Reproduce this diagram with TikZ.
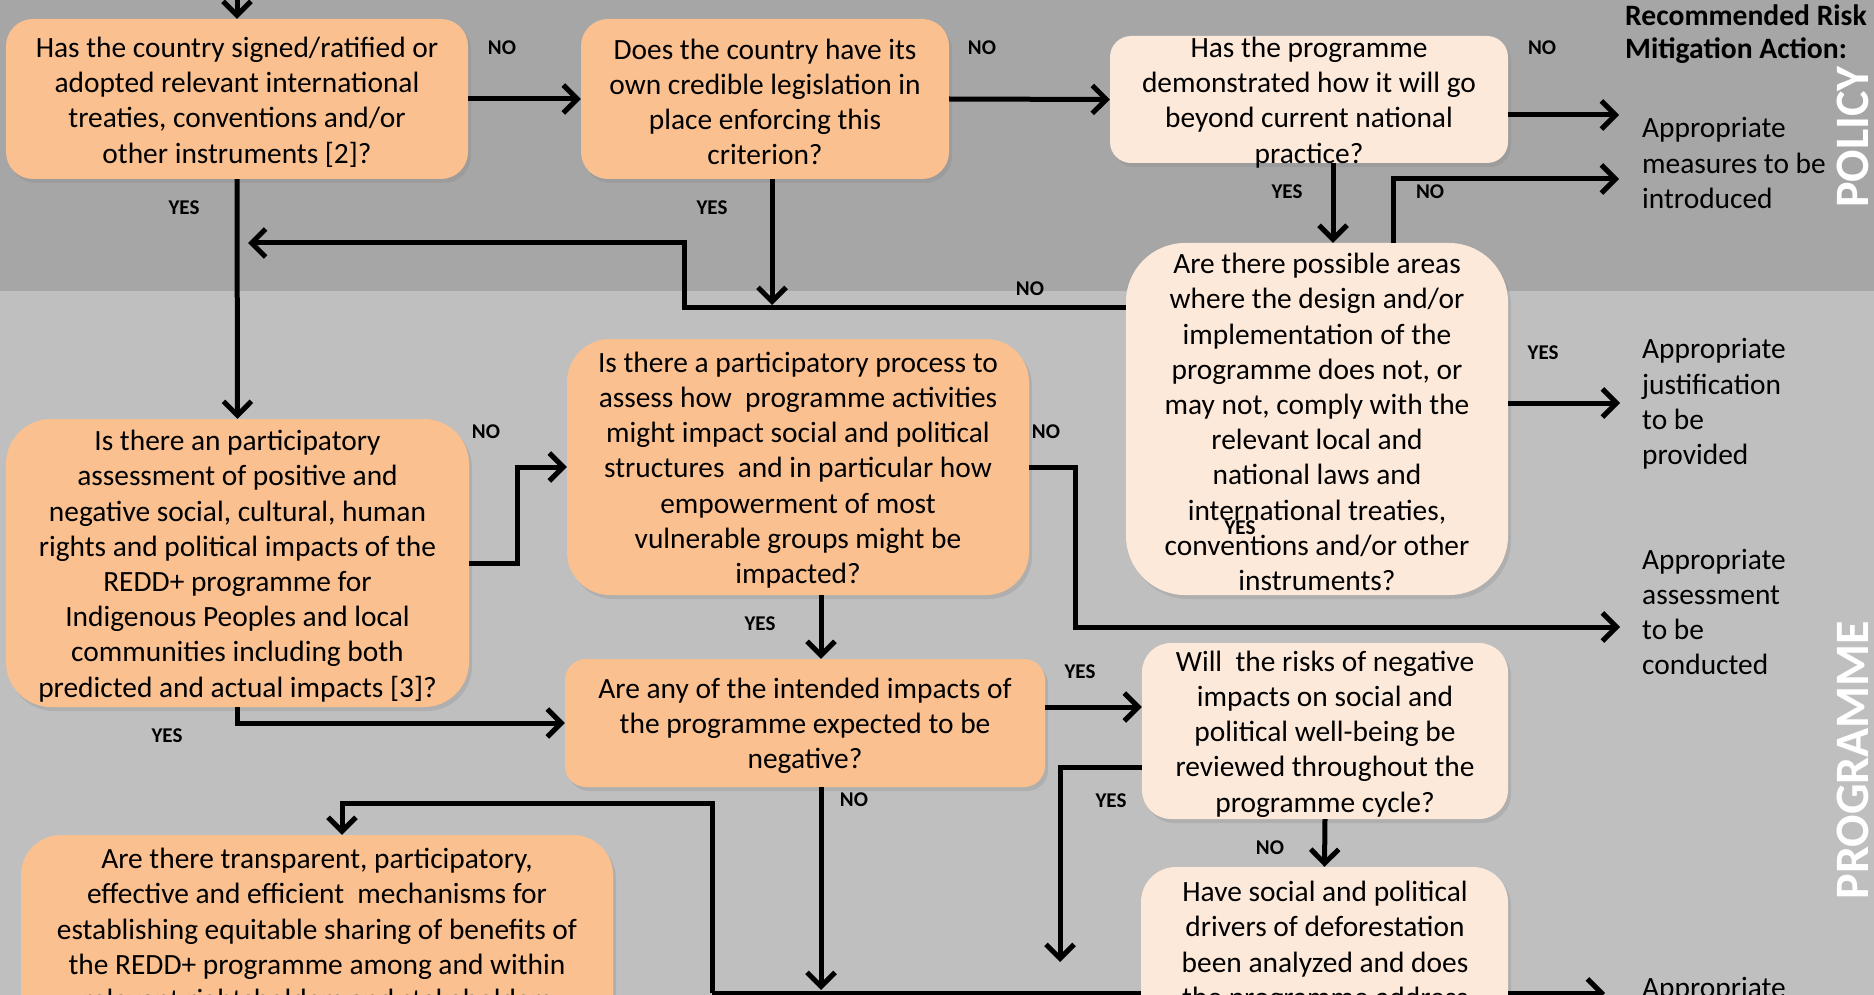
\documentclass[tikz,border=0pt]{standalone}
\usepackage{fontspec}
\setmainfont{Carlito}
\usetikzlibrary{arrows.meta,shadows}
\definecolor{bgtop}{HTML}{A6A6A6}
\definecolor{bgbot}{HTML}{BFBFBF}
\definecolor{orng}{HTML}{FAC090}
\definecolor{lite}{HTML}{FDE9D9}
\begin{document}
\begin{tikzpicture}[x=1pt,y=-1pt,
  box/.style={draw=none, inner sep=0pt, rectangle, drop shadow={shadow xshift=3pt, shadow yshift=-4pt, opacity=0.25}},
  obox/.style={box, fill=orng},
  lbox/.style={box, fill=lite},
  txt/.style={align=center, inner sep=0pt, yshift=-3pt, font=\fontsize{29.4}{35.2}\selectfont},
  yn/.style={font=\fontsize{21}{21}\selectfont\bfseries, inner sep=0pt},
  act/.style={align=left, anchor=west, inner sep=0pt, font=\fontsize{29.4}{35.2}\selectfont},
  hdr/.style={align=left, anchor=west, inner sep=0pt, font=\fontsize{29.6}{33}\selectfont\bfseries},
  arr/.style={line width=5pt, -{Straight Barb[length=14pt,width=28pt]}},
  ln/.style={line width=5pt},
  sec/.style={rotate=90, text=white, font=\fontsize{48}{48}\selectfont\bfseries, inner sep=0pt}
]
\useasboundingbox (0,0) rectangle (1874,995);
\clip (0,0) rectangle (1874,995);
\fill[bgtop] (0,0) rectangle (1874,291);
\fill[bgbot] (0,291) rectangle (1874,995);

% coordinates
\coordinate (top) at (237,0);
\coordinate (m1) at (1619,115);
\coordinate (m2) at (1619,179);
\coordinate (m3) at (1620,627);
\coordinate (m4) at (1605,993);
\coordinate (m5) at (1620,403);
\coordinate (x5) at (1333,0);
\coordinate (x6) at (1393,0);
\coordinate (x8) at (772,0);
\coordinate (x12) at (821,0);
\coordinate (x18) at (342,0);
\coordinate (k1) at (684,307);
\coordinate (k2) at (248,243);
\coordinate (k3) at (772,305);
\coordinate (k4) at (0,707);
\coordinate (k5) at (1060,767);
\coordinate (k6) at (1060,962);
\coordinate (k7) at (821,990);
\coordinate (k8) at (712,993);
\coordinate (k9) at (712,803);

% bottom line behind box I
\draw[ln] (k8) -- (1300,993);

% boxes
\node[obox, rounded corners=27pt, minimum width=462pt, minimum height=160pt] (A) at (237,99) {};
\node[obox, rounded corners=27pt, minimum width=368pt, minimum height=160pt] (B) at (765,99) {};
\node[lbox, rounded corners=21pt, minimum width=398pt, minimum height=127pt] (C) at (1309,99.5) {};
\node[lbox, rounded corners=59pt, minimum width=382pt, minimum height=352pt] (D) at (1317,419) {};
\node[obox, rounded corners=45pt, minimum width=463pt, minimum height=288pt] (E) at (237.5,563) {};
\node[obox, rounded corners=43pt, minimum width=462pt, minimum height=256pt] (F) at (798,467) {};
\node[obox, rounded corners=21pt, minimum width=480pt, minimum height=128pt] (G) at (805,723) {};
\node[lbox, rounded corners=29pt, minimum width=366pt, minimum height=176pt] (H) at (1325,731) {};
\node[lbox, rounded corners=35pt, minimum width=367pt, minimum height=283pt] (I) at (1324.5,1008.5) {};
\node[obox, rounded corners=40pt, minimum width=592pt, minimum height=300pt] (J) at (317,985) {};

% texts in boxes
\node[txt] (At) at (A.center) {Has the country signed/ratified or\\adopted relevant international\\treaties, conventions and/or\\other instruments [2]?};
\node[txt] (Bt) at (B.center) {Does the country have its\\own credible legislation in\\place enforcing this\\criterion?};
\node[txt] (Ct) at (C.center) {Has the programme\\demonstrated how it will go\\beyond current national\\practice?};
\node[txt] (Dt) at (D.center) {Are there possible areas\\where the design and/or\\implementation of the\\programme does not, or\\may not, comply with the\\relevant local and\\national laws and\\international treaties,\\conventions and/or other\\instruments?};
\node[txt] (Et) at (E.center) {Is there an participatory\\assessment of positive and\\negative social, cultural, human\\rights and political impacts of the\\REDD+ programme for\\Indigenous Peoples and local\\communities including both\\predicted and actual impacts [3]?};
\node[txt] (Ft) at (F.center) {Is there a participatory process to\\assess how\ \ programme activities\\might impact social and political\\structures\ \ and in particular how\\empowerment of most\\vulnerable groups might be\\impacted?};
\node[txt] (Gt) at (G.center) {Are any of the intended impacts of\\the programme expected to be\\negative?};
\node[txt] (Ht) at (H.center) {Will\ \ the risks of negative\\impacts on social and\\political well-being be\\reviewed throughout the\\programme cycle?};
\node[txt, anchor=north] (It) at (1325,878) {Have social and political\\drivers of deforestation\\been analyzed and does\\the programme address};
\node[txt, anchor=north] (Jt) at (317,845) {Are there transparent, participatory,\\effective and efficient\ \ mechanisms for\\establishing equitable sharing of benefits of\\the REDD+ programme among and within\\relevant rightsholders and stakeholders};

% connectors
\draw[arr] (top) -- (A.north);
\draw[arr] (A.east) -- (B.west);
\draw[arr] (B.east) -- (C.west);
\draw[arr] (C.east |- m1) -- (m1);
\draw[arr] (C.south -| x5) -- (D.north -| x5);
\draw[arr] (D.north -| x6) |- (m2);
\draw[arr] (D.west |- k1) -- (k1) |- (k2);
\draw[arr] (B.south -| x8) -- (k3);
\draw[arr] (A.south) -- (E.north);
\draw[arr] (D.east |- m5) -- (m5);
\draw[arr] (E.east) -- ++(48,0) |- (F.west);
\draw[arr] (F.east) -- ++(46,0) |- (m3);
\draw[arr] (F.south -| x12) -- (G.north -| x12);
\draw[arr] (E.south) |- (G.west);
\draw[arr] (G.east |- k4) -- (H.west |- k4);
\draw[arr] (H.west |- k5) -- (k5) -- (k6);
\draw[arr] (H.south) -- (I.north);
\draw[arr] (G.south -| x12) -- (k7);
\draw[arr] (k8) -- (k9) -| (J.north -| x18);
\draw[arr] (I.east |- m4) -- (m4);

% labels
\node[yn] (l1) at (502,48) {NO};
\node[yn] (l2) at (982,48) {NO};
\node[yn] (l3) at (1542,48) {NO};
\node[yn] (l4) at (1287,192) {YES};
\node[yn] (l5) at (1430,192) {NO};
\node[yn] (l6) at (1030,289) {NO};
\node[yn] (l7) at (712,208) {YES};
\node[yn] (l8) at (184,208) {YES};
\node[yn] (l9) at (486,432) {NO};
\node[yn] (l10) at (1046,432) {NO};
\node[yn] (l11) at (760,624) {YES};
\node[yn] (l12) at (167,736) {YES};
\node[yn] (l13) at (1080,672) {YES};
\node[yn] (l14) at (1111,801) {YES};
\node[yn] (l15) at (1270,848) {NO};
\node[yn] (l16) at (854,800) {NO};
\node[yn] (l17) at (1543,353) {YES};
\node[yn] (l18) at (1240,528) {YES};

% right column
\node[hdr] (r0) at (1625,34) {Recommended Risk\\Mitigation Action:};
\node[act] (r1) at (1642,163) {Appropriate\\measures to be\\introduced};
\node[act] (r2) at (1642,404) {Appropriate\\justification\\to be\\provided};
\node[act] (r3) at (1642,612) {Appropriate\\assessment\\to be\\conducted};
\node[act] (r4) at (1642,990) {Appropriate};
\node[sec] (s1) at (1853,137) {POLICY};
\node[sec] (s2) at (1853,760) {PROGRAMME};
\end{tikzpicture}
\end{document}
